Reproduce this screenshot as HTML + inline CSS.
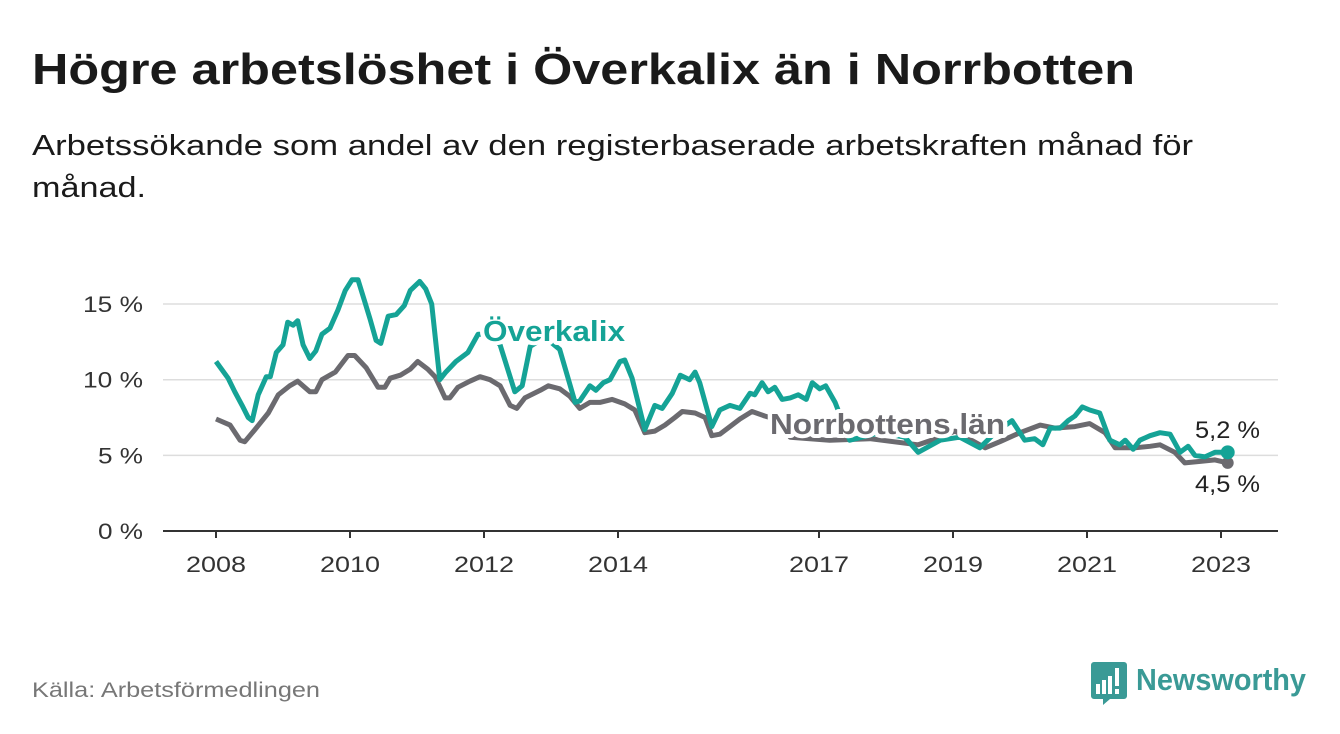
<!DOCTYPE html>
<html><head><meta charset="utf-8"><style>
html,body{margin:0;padding:0;background:#fff;}
svg{display:block;font-family:"Liberation Sans",sans-serif;}
</style></head><body>
<svg id="chart" width="1340" height="734" viewBox="0 0 1340 734">
<text x="32" y="84" font-size="44" font-weight="bold" fill="#1a1a1a" textLength="1103" lengthAdjust="spacingAndGlyphs">Högre arbetslöshet i Överkalix än i Norrbotten</text>
<text x="32" y="155" font-size="29" fill="#1a1a1a" textLength="1161" lengthAdjust="spacingAndGlyphs">Arbetssökande som andel av den registerbaserade arbetskraften månad för</text>
<text x="32" y="197" font-size="29" fill="#1a1a1a" textLength="114" lengthAdjust="spacingAndGlyphs">månad.</text>
<g id="grid"></g>
<g id="xaxis"></g>
<g id="lines"></g>
<g id="labels"></g>
<text x="32" y="697" font-size="21" fill="#777" textLength="288" lengthAdjust="spacingAndGlyphs">Källa: Arbetsförmedlingen</text>
<g>
<path d="M1094 662 h30 a3 3 0 0 1 3 3 v31 a3 3 0 0 1 -3 3 h-14 l-7 6 v-6 h-9 a3 3 0 0 1 -3 -3 v-31 a3 3 0 0 1 3 -3z" fill="#3a9a96"/>
<rect x="1096" y="684" width="4" height="10" fill="#fff"/><rect x="1102" y="680" width="4" height="14" fill="#fff"/><rect x="1108" y="676" width="4" height="18" fill="#fff"/><rect x="1115" y="668" width="4" height="18" fill="#fff"/><rect x="1115" y="689" width="4" height="5" fill="#fff"/>
<text x="1136" y="690" font-size="31" font-weight="bold" fill="#3a9a96" textLength="170" lengthAdjust="spacingAndGlyphs">Newsworthy</text>
</g>
</svg>
<script>
const yearTicks=[2008,2010,2012,2014,2017,2019,2021,2023];
const yTicks=[0,5,10,15];
const yTickLabels=["0 %","5 %","10 %","15 %"];
const okDates=[2008.00,2008.18,2008.28,2008.39,2008.48,2008.54,2008.63,2008.75,2008.81,2008.90,2009.00,2009.07,2009.15,2009.22,2009.30,2009.40,2009.49,2009.58,2009.70,2009.82,2009.93,2010.03,2010.12,2010.21,2010.30,2010.39,2010.46,2010.57,2010.69,2010.81,2010.90,2011.04,2011.13,2011.22,2011.34,2011.43,2011.58,2011.76,2011.91,2012.09,2012.24,2012.46,2012.57,2012.69,2012.91,2013.13,2013.36,2013.43,2013.58,2013.67,2013.78,2013.88,2014.03,2014.10,2014.21,2014.40,2014.55,2014.66,2014.81,2014.93,2015.07,2015.15,2015.22,2015.40,2015.52,2015.67,2015.82,2015.97,2016.04,2016.15,2016.24,2016.34,2016.45,2016.57,2016.69,2016.81,2016.90,2017.01,2017.10,2017.24,2017.46,2017.91,2018.28,2018.48,2018.81,2019.10,2019.40,2019.63,2019.88,2020.07,2020.22,2020.34,2020.45,2020.60,2020.72,2020.82,2020.93,2021.04,2021.19,2021.34,2021.49,2021.57,2021.69,2021.79,2021.94,2022.09,2022.24,2022.39,2022.51,2022.61,2022.76,2022.91,2023.10];
const okValues=[11.2,10.1,9.2,8.3,7.5,7.3,9.0,10.2,10.2,11.8,12.3,13.8,13.6,13.9,12.3,11.4,11.9,13.0,13.4,14.6,15.9,16.6,16.6,15.3,14.0,12.6,12.4,14.2,14.3,14.9,15.9,16.5,16.0,15.0,10.0,10.5,11.2,11.8,13.0,13.0,12.3,9.2,9.6,12.2,12.8,12.0,8.5,8.6,9.6,9.3,9.8,10.0,11.2,11.3,10.1,6.7,8.3,8.1,9.1,10.3,10.0,10.5,9.8,6.9,8.0,8.3,8.1,9.1,9.0,9.8,9.2,9.5,8.7,8.8,9.0,8.7,9.8,9.4,9.6,8.5,6.0,6.5,6.2,5.2,6.0,6.2,5.5,6.5,7.3,6.0,6.1,5.7,6.8,6.8,7.3,7.6,8.2,8.0,7.8,6.0,5.7,6.0,5.4,6.0,6.3,6.5,6.4,5.2,5.6,5.0,4.9,5.2,5.2];
const nbDates=[2008.00,2008.21,2008.36,2008.43,2008.58,2008.78,2008.93,2009.10,2009.22,2009.40,2009.49,2009.58,2009.78,2009.97,2010.07,2010.24,2010.42,2010.52,2010.60,2010.75,2010.90,2011.01,2011.16,2011.27,2011.42,2011.49,2011.61,2011.79,2011.94,2012.09,2012.24,2012.39,2012.49,2012.61,2012.84,2012.96,2013.13,2013.28,2013.43,2013.58,2013.73,2013.91,2014.10,2014.25,2014.40,2014.55,2014.70,2014.85,2014.96,2015.15,2015.30,2015.40,2015.52,2015.64,2015.82,2016.00,2016.19,2016.42,2016.57,2017.16,2017.76,2018.48,2018.81,2019.03,2019.48,2019.70,2020.00,2020.30,2020.52,2020.82,2021.04,2021.27,2021.42,2021.72,2021.94,2022.09,2022.31,2022.46,2022.69,2022.91,2023.10];
const nbValues=[7.4,7.0,6.0,5.9,6.7,7.8,9.0,9.6,9.9,9.2,9.2,10.0,10.5,11.6,11.6,10.8,9.5,9.5,10.1,10.3,10.7,11.2,10.7,10.2,8.8,8.8,9.5,9.9,10.2,10.0,9.6,8.3,8.1,8.8,9.3,9.6,9.4,8.9,8.1,8.5,8.5,8.7,8.4,8.0,6.5,6.6,7.0,7.5,7.9,7.8,7.5,6.3,6.4,6.8,7.4,7.9,7.6,7.3,6.2,6.0,6.1,5.7,6.2,6.6,5.5,5.9,6.5,7.0,6.8,6.9,7.1,6.5,5.5,5.5,5.6,5.7,5.2,4.5,4.6,4.7,4.5];

const NS='http://www.w3.org/2000/svg';
const xS=yr=>216+(yr-2008)*67;
const yS=v=>531-v*15.13;
function mk(tag,attrs,parent,text){const e=document.createElementNS(NS,tag);for(const k in attrs)e.setAttribute(k,attrs[k]);if(text!==undefined)e.textContent=text;document.getElementById(parent).appendChild(e);return e;}

yTicks.forEach((t,i)=>{
  const l=mk('line',{x1:163,x2:1278,y1:yS(t),y2:yS(t),stroke:t===0?'#333':'#ddd','stroke-width':t===0?2:1.5},'grid');
  
  
  const lab=yTickLabels[i];
  const tx=mk('text',{x:143,y:yS(t)+8,'font-size':22,fill:'#333','text-anchor':'end',textLength:lab.length*15,lengthAdjust:'spacingAndGlyphs'},'grid',lab);
  
  
});
yearTicks.forEach(yr=>{
  const l=mk('line',{x1:xS(yr),x2:xS(yr),y1:531,y2:538,stroke:'#333','stroke-width':2},'xaxis');
  
  
  const tx=mk('text',{x:xS(yr),y:572,'font-size':22,fill:'#333','text-anchor':'middle',textLength:60,lengthAdjust:'spacingAndGlyphs'},'xaxis',String(yr));
  
  
});
function path(d,v){return d.map((t,i)=>(i?'L':'M')+xS(t).toFixed(1)+' '+yS(v[i]).toFixed(1)).join(' ');}
const pn=mk('path',{d:path(nbDates,nbValues),fill:'none',stroke:'#6b6a6f','stroke-width':5,'stroke-linejoin':'round'},'lines');


const po=mk('path',{d:path(okDates,okValues),fill:'none',stroke:'#15a396','stroke-width':5,'stroke-linejoin':'round'},'lines');


const ln=nbDates.length-1, lo=okDates.length-1;
const dn=mk('circle',{cx:xS(nbDates[ln]),cy:yS(nbValues[ln]),r:6,fill:'#6b6a6f'},'lines');


const dO=mk('circle',{cx:xS(okDates[lo]),cy:yS(okValues[lo]),r:7,fill:'#15a396'},'lines');


const halo={stroke:'#fff','stroke-width':8,'paint-order':'stroke','stroke-linejoin':'round','font-weight':'bold','font-size':29,lengthAdjust:'spacingAndGlyphs'};
const a=mk('text',Object.assign({x:483,y:341,fill:'#15a396',textLength:142},halo),'labels','Överkalix');


const b=mk('text',Object.assign({x:770,y:434,fill:'#6b6a6f',textLength:235},halo),'labels','Norrbottens län');


const c=mk('text',{x:1195,y:438,'font-size':24,fill:'#222',textLength:65,lengthAdjust:'spacingAndGlyphs'},'labels',okValues[lo].toFixed(1).replace('.',',')+' %');


const d=mk('text',{x:1195,y:492,'font-size':24,fill:'#222',textLength:65,lengthAdjust:'spacingAndGlyphs'},'labels',nbValues[ln].toFixed(1).replace('.',',')+' %');


</script>
</body></html>
